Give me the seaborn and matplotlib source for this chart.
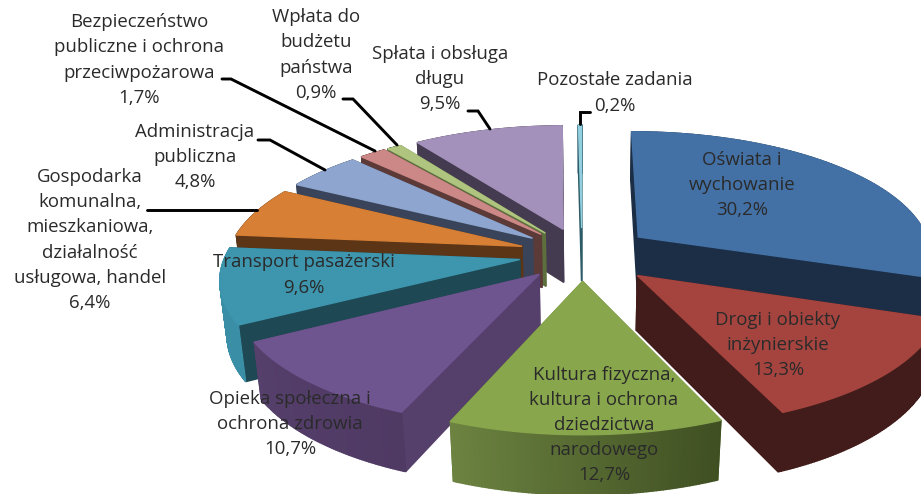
import numpy as np
import matplotlib
matplotlib.use("Agg")
import matplotlib.pyplot as plt
from matplotlib.colors import to_rgb
import seaborn as sns

# budget shares, in the order the slices run clockwise from 12 o'clock
labels = ["Oświata i\nwychowanie", "Drogi i obiekty\ninżynierskie",
          "Kultura fizyczna,\nkultura i ochrona\ndziedzictwa\nnarodowego",
          "Opieka społeczna i\nochrona zdrowia", "Transport pasażerski",
          "Gospodarka\nkomunalna,\nmieszkaniowa,\ndziałalność\nusługowa, handel",
          "Administracja\npubliczna",
          "Bezpieczeństwo\npubliczne i ochrona\nprzeciwpożarowa",
          "Wpłata do\nbudżetu\npaństwa", "Spłata i obsługa\ndługu",
          "Pozostałe zadania"]
values = [30.2, 13.3, 12.7, 10.7, 9.6, 6.4, 4.8, 1.7, 0.9, 9.5, 0.2]
value_text = ["30,2%", "13,3%", "12,7%", "10,7%", "9,6%", "6,4%", "4,8%", "1,7%", "0,9%", "9,5%", "0,2%"]
explode = [0.24, 0.25, 0.215, 0.215, 0.215, 0.215, 0.215, 0.215, 0.215, 0.215, 0.215]

top_colors = ["#4371a6", "#a5443f", "#88a64c", "#6f5590", "#3d96ae", "#d67f35",
              "#8ea6cf", "#cb8886", "#aec47f", "#a491bb", "#92cfdf"]
wall_colors = ["#1b2e45", "#421c1a", "#5d7035", "#553f6b", "#1e4854", "#5c3517",
               "#39445a", "#5c3a38", "#5d6f3d", "#453b50", "#2d5c68"]
# rim colour at the two ends of each arc
rim_from = ["#1b2e45", "#421c1a", "#6c8341", "#553f6b", "#3a8ea5", "#5c3517",
            "#39445a", "#5c3a38", "#5d6f3d", "#453b50", "#2d5c68"]
rim_to = ["#1b2e45", "#421c1a", "#3f4f22", "#4f3a64", "#3a8ea5", "#5c3517",
          "#39445a", "#5c3a38", "#5d6f3d", "#453b50", "#2d5c68"]

# label centres and leader lines, in pixels
label_pos = [(742, 185), (778, 345), (604, 425), (290, 424), (304, 275), (90, 240),
             (195, 157), (139, 60), (316, 55), (440, 79), (615, 93)]
leaders = [[(222, 79), (231, 79), (375, 151)],
           [(343, 99), (353, 99), (397, 145)],
           [(258, 140), (270, 140), (325, 170)],
           [(147, 210), (257, 210)],
           [(468, 111), (478, 111), (490, 129)],
           [(590, 112), (580, 112), (580, 124)]]

sns.set_theme(style="white")
plt.rcParams["font.family"] = ["Open Sans", "DejaVu Sans"]

CX, CY, RX, RY, DEPTH = 582, 254, 294, 124, 55
K, M = 0.137, 0.02


def project(x, y, z):
    # z=0 is the top face, z=1 the bottom one
    w = 1 + K * y + M * z
    return CX + RX * x / w, CY - RY * y / w + DEPTH * z / w


def mix(a, b, t):
    a, b = np.array(to_rgb(a)), np.array(to_rgb(b))
    return tuple(a + (b - a) * t)


fig = plt.figure(figsize=(9.21, 4.94), dpi=100)
ax = fig.add_axes([0, 0, 1, 1])
wedges, _ = ax.pie(values, startangle=90, counterclock=False, explode=explode)

shapes = []
for i, w in enumerate(wedges):
    t = np.radians(np.linspace(w.theta1, w.theta2, 80))
    xs = np.r_[w.center[0], w.center[0] + w.r * np.cos(t)]
    ys = np.r_[w.center[1], w.center[1] + w.r * np.sin(t)]
    shapes.append((i, xs, ys, np.radians((w.theta1 + w.theta2) / 2)))
    w.remove()

ax.set_aspect("auto")
ax.set_xlim(0, 921)
ax.set_ylim(494, 0)
ax.axis("off")

# back slices first, so the front ones paint over them
shapes.sort(key=lambda s: -np.sin(s[3]))
for i, xs, ys, mid in shapes:
    n = len(xs)
    quads = []
    for j in range(n):
        k = (j + 1) % n
        radial = j == 0 or j == n - 1
        col = wall_colors[i] if radial else mix(rim_from[i], rim_to[i], (j - 1) / (n - 3))
        quads.append(((ys[j] + ys[k]) / 2, j, k, col))
    quads.sort(key=lambda q: -q[0])
    for _, j, k, col in quads:
        a = project(xs[j], ys[j], 0)
        b = project(xs[k], ys[k], 0)
        c = project(xs[k], ys[k], 1)
        d = project(xs[j], ys[j], 1)
        ax.fill([a[0], b[0], c[0], d[0]], [a[1], b[1], c[1], d[1]], color=col, lw=1.0)
    px, py = project(xs, ys, 0)
    ax.fill(px, py, color=top_colors[i], lw=1.0)

for line in leaders:
    ax.plot(*zip(*line), color="black", lw=2.1, solid_joinstyle="miter")

for lab, val, (x, y) in zip(labels, value_text, label_pos):
    ax.text(x, y, lab + "\n" + val, ha="center", va="center", fontsize=13.4,
            color="#2a2a2a", linespacing=1.51)

fig.savefig("out.png", dpi=100)
